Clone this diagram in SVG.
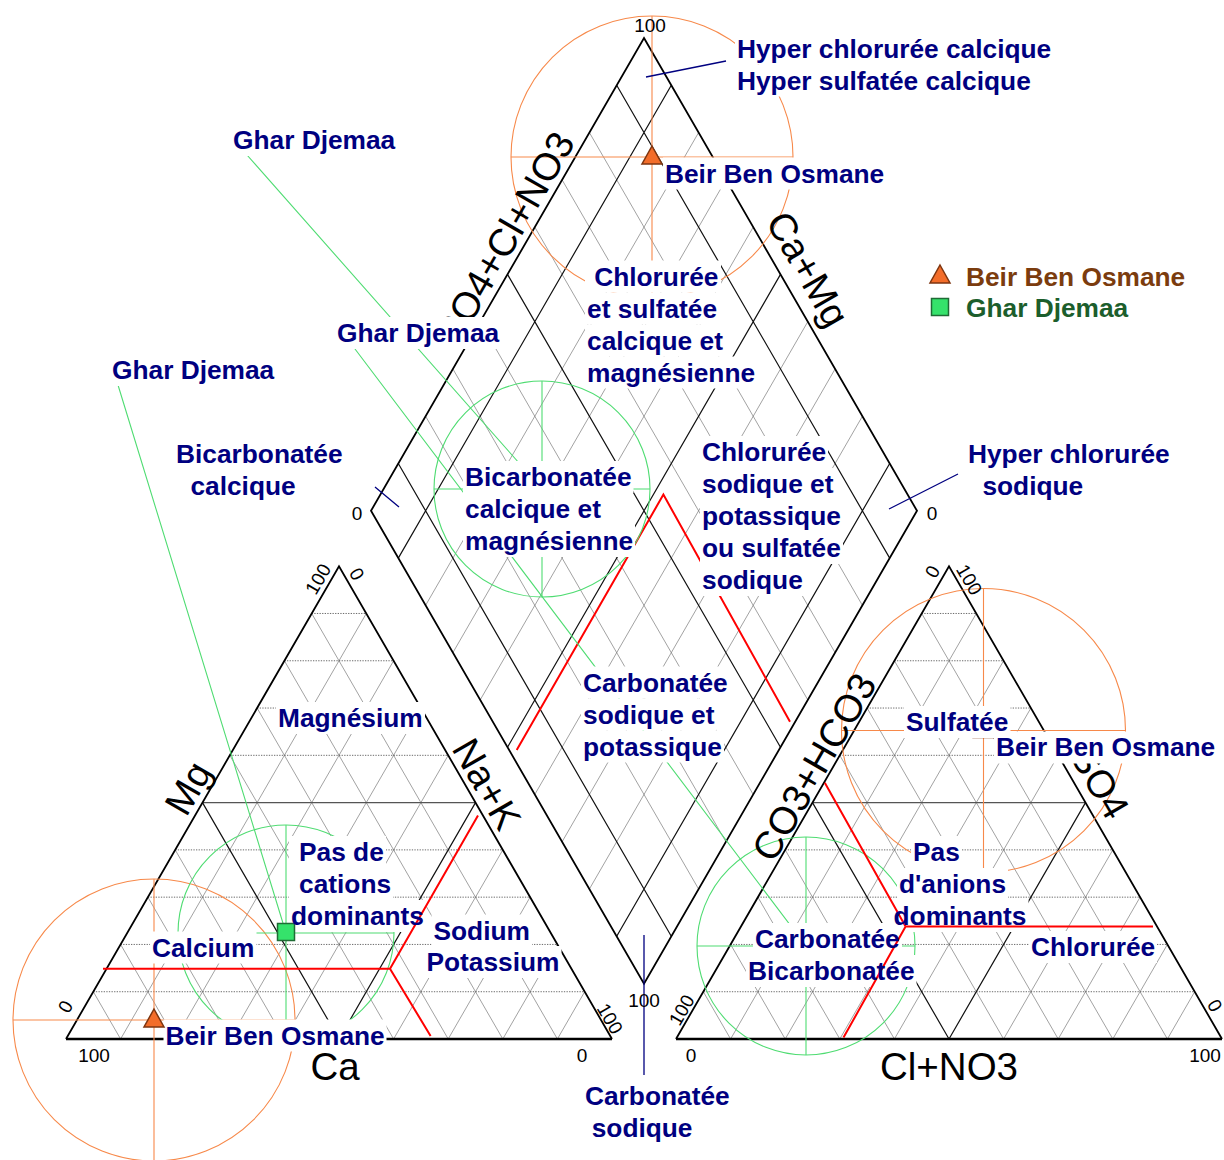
<svg xmlns="http://www.w3.org/2000/svg" xmlns:xlink="http://www.w3.org/1999/xlink" width="1224" height="1160" viewBox="0 0 1224 1160">
<style>
.g{stroke:#6f6f6f;stroke-width:0.65;fill:none}
.gd{stroke:#5a5a5a;stroke-width:0.9;stroke-dasharray:1.3 1.3;fill:none}
.k{stroke:#111;stroke-width:1.2;fill:none}
.kh{stroke:#555;stroke-width:1.2;fill:none}
.edge{stroke:#000;stroke-width:1.8;fill:none}
.base{stroke:#000;stroke-width:2.6;fill:none}
.red{stroke:#f00;stroke-width:2;fill:none}
.og{stroke:#f7894a;stroke-width:1.1;fill:none}
.gr{stroke:#4fdc72;stroke-width:1.1;fill:none}
.nv{stroke:#000080;stroke-width:1.3;fill:none}
.tri{fill:#f36d2a;stroke:#7d3510;stroke-width:1.5}
.sq{fill:#35e26b;stroke:#1f6b35;stroke-width:1.5}
.box{fill:#fff}
.lbl{font-family:"Liberation Sans",Arial,sans-serif;font-weight:bold;font-size:26.3px;fill:#000080}
.ax{font-family:"Liberation Sans",Arial,sans-serif;font-size:38.5px;fill:#000}
.tk{font-family:"Liberation Sans",Arial,sans-serif;font-size:19px;fill:#000}
</style>
<defs>
<g id="tgrid">
<path class="g" d="M120.6 1039L366.3 613.48M175.2 1039L393.6 660.76M229.8 1039L420.9 708.04M284.4 1039L448.2 755.32M393.6 1039L502.8 849.88M448.2 1039L530.1 897.16M502.8 1039L557.4 944.44M557.4 1039L584.7 991.72M120.6 1039L93.3 991.72M175.2 1039L120.6 944.44M229.8 1039L147.9 897.16M284.4 1039L175.2 849.88M393.6 1039L229.8 755.32M448.2 1039L257.1 708.04M502.8 1039L284.4 660.76M557.4 1039L311.7 613.48"/>
<path class="gd" d="M93.3 991.72H584.7M120.6 944.44H557.4M147.9 897.16H530.1M175.2 849.88H502.8M229.8 755.32H448.2M257.1 708.04H420.9M284.4 660.76H393.6M311.7 613.48H366.3"/>
<path class="kh" d="M202.5 802.6H475.5"/>
<path class="k" d="M339 1039L475.5 802.6M339 1039L202.5 802.6"/>
<path class="edge" d="M66 1039L339 566.2L612 1039"/>
<path class="base" d="M66 1039H612"/>
</g>
</defs>
<rect width="1224" height="1160" fill="#fff"/>

<g id="left-triangle">
<use xlink:href="#tgrid" href="#tgrid"/>
</g>
<g id="right-triangle">
<use xlink:href="#tgrid" href="#tgrid" transform="translate(610,0)"/>
</g>
<g id="diamond">
<path class="g" d="M425.6 605.36L698.6 132.56M452.9 652.64L725.9 179.84M480.2 699.92L753.2 227.12M534.8 794.48L807.8 321.68M562.1 841.76L835.1 368.96M589.4 889.04L862.4 416.24M425.6 416.24L698.6 889.04M452.9 368.96L725.9 841.76M480.2 321.68L753.2 794.48M534.8 227.12L807.8 699.92M562.1 179.84L835.1 652.64M589.4 132.56L862.4 605.36"/>
<path class="k" d="M398.3 558.08L671.3 85.28M507.5 747.2L780.5 274.4M616.7 936.32L889.7 463.52M398.3 463.52L671.3 936.32M507.5 274.4L780.5 747.2M616.7 85.28L889.7 558.08"/>
<path class="edge" d="M644 38L917 510.8L644 983.6L371 510.8Z"/>
</g>

<g id="connectors">
<path class="red" d="M516.7 750L663.4 494.6L790 721.7"/>
<path class="og" d="M511 157H793M652 16V298M13 1020H295M154 879V1161M841.5 730.5H1125.5M983.5 588.5V872.5"/>
<circle class="og" cx="652" cy="157" r="141"/>
<circle class="og" cx="154" cy="1020" r="141"/>
<circle class="og" cx="983.5" cy="730.5" r="142"/>
<path class="gr" d="M434 489H650M542 381V597M178 933H394M286 825V1041M697 946H915M806 837V1055"/>
<circle class="gr" cx="542" cy="489" r="108"/>
<circle class="gr" cx="286" cy="933" r="108"/>
<circle class="gr" cx="806" cy="946" r="109"/>
<path class="gr" d="M247 155L542 489M352 345L806 946M118 385L286 933"/>
<path class="nv" d="M726 61L646 77M375 487L399 507M958 474L889 509M644 935V1075"/>
</g>

<g id="hidden-points">
<rect class="sq" x="533.5" y="480.5" width="17" height="17"/>
<rect class="sq" x="797.5" y="937.5" width="17" height="17"/>
<path class="tri" d="M983.5 719.5L993.5 737.5L973.5 737.5Z"/>
</g>

<g id="axes">
<text class="ax" text-anchor="middle" dy="0.35em" transform="translate(188,788) rotate(-60)">Mg</text>
<text class="ax" text-anchor="middle" dy="0.35em" transform="translate(487,784) rotate(60)">Na+K</text>
<text class="ax" text-anchor="middle" x="335" y="1080">Ca</text>
<text class="ax" text-anchor="middle" dy="0.35em" transform="translate(814,767) rotate(-60)">CO3+HCO3</text>
<text class="ax" text-anchor="middle" dy="0.35em" transform="translate(1100,782) rotate(60)">SO4</text>
<text class="ax" text-anchor="middle" x="949" y="1080">Cl+NO3</text>
<text class="ax" text-anchor="middle" dy="0.35em" transform="translate(505,238) rotate(-60)">SO4+Cl+NO3</text>
<text class="ax" text-anchor="middle" dy="0.35em" transform="translate(808,269) rotate(60)">Ca+Mg</text>
</g>

<g id="ticks">
<text class="tk" text-anchor="middle" x="650" y="32">100</text>
<text class="tk" text-anchor="middle" x="357" y="520">0</text>
<text class="tk" text-anchor="middle" x="932" y="520">0</text>
<text class="tk" text-anchor="middle" x="644" y="1007">100</text>
<text class="tk" text-anchor="middle" x="94" y="1062">100</text>
<text class="tk" text-anchor="middle" x="582" y="1062">0</text>
<text class="tk" text-anchor="middle" x="691" y="1062">0</text>
<text class="tk" text-anchor="middle" x="1205" y="1062">100</text>
<text class="tk" text-anchor="middle" dy="0.35em" transform="translate(318,579) rotate(-60)">100</text>
<text class="tk" text-anchor="middle" dy="0.35em" transform="translate(357,574) rotate(60)">0</text>
<text class="tk" text-anchor="middle" dy="0.35em" transform="translate(65.5,1006.6) rotate(-60)">0</text>
<text class="tk" text-anchor="middle" dy="0.35em" transform="translate(610,1018.6) rotate(60)">100</text>
<text class="tk" text-anchor="middle" dy="0.35em" transform="translate(932.3,571.7) rotate(-60)">0</text>
<text class="tk" text-anchor="middle" dy="0.35em" transform="translate(969.3,579.6) rotate(60)">100</text>
<text class="tk" text-anchor="middle" dy="0.35em" transform="translate(681.6,1010) rotate(-60)">100</text>
<text class="tk" text-anchor="middle" dy="0.35em" transform="translate(1214.8,1005.6) rotate(60)">0</text>
</g>

<g id="label-boxes" class="box">
<rect x="735" y="32.5" width="318" height="32"/>
<rect x="735" y="64.5" width="298" height="32"/>
<rect x="231" y="124" width="166" height="32"/>
<rect x="663" y="157.5" width="223" height="32"/>
<rect x="585" y="260.5" width="136" height="32"/>
<rect x="585" y="292.5" width="134" height="32"/>
<rect x="585" y="324.5" width="140" height="32"/>
<rect x="585" y="356.5" width="172" height="32"/>
<rect x="335" y="317" width="166" height="32"/>
<rect x="110" y="354" width="166" height="32"/>
<rect x="174" y="438" width="170.5" height="32"/>
<rect x="174" y="470" width="124" height="32"/>
<rect x="463" y="461" width="170.5" height="32"/>
<rect x="463" y="493" width="140" height="32"/>
<rect x="463" y="525" width="172" height="32"/>
<rect x="700" y="436" width="128" height="32"/>
<rect x="700" y="468" width="135.5" height="32"/>
<rect x="700" y="500" width="143" height="32"/>
<rect x="700" y="532" width="143" height="32"/>
<rect x="700" y="564" width="105" height="32"/>
<rect x="966" y="438" width="206" height="32"/>
<rect x="966" y="470" width="119.5" height="32"/>
<rect x="276" y="702" width="149" height="32"/>
<rect x="581" y="666.5" width="149" height="32"/>
<rect x="581" y="698.5" width="135.5" height="32"/>
<rect x="581" y="730.5" width="143" height="32"/>
<rect x="904" y="706" width="106.5" height="32"/>
<rect x="994" y="731.5" width="223" height="32"/>
<rect x="289" y="836" width="97" height="32"/>
<rect x="289" y="868" width="104" height="32"/>
<rect x="291" y="900" width="135" height="32"/>
<rect x="431.5" y="914.5" width="100.5" height="32"/>
<rect x="424.5" y="946" width="137" height="32"/>
<rect x="150" y="931.5" width="106.5" height="32"/>
<rect x="163.5" y="1019.5" width="223" height="32"/>
<rect x="911" y="836" width="51" height="32"/>
<rect x="897" y="868" width="111" height="32"/>
<rect x="891.5" y="900" width="137" height="32"/>
<rect x="753" y="923" width="149" height="32"/>
<rect x="746" y="955" width="170.5" height="32"/>
<rect x="1029" y="931" width="128" height="32"/>
<rect x="583" y="1080" width="149" height="32"/>
<rect x="583" y="1112" width="110" height="32"/>
</g>

<g id="red-triangles">
<path class="red" d="M103 968.7H390M390 968.7L478 815.5M390 968.7L430.6 1036"/>
<path class="red" d="M905.6 926.4H1153M905.6 926.4L824.8 782.8M905.6 926.4L843.5 1037.6"/>
</g>

<g id="points">
<path class="tri" d="M652 146L662 164L642 164Z"/>
<path class="tri" d="M154 1009L164 1027L144 1027Z"/>
<rect class="sq" x="277.5" y="923.5" width="17" height="17"/>
</g>

<g id="labels" class="lbl">
<text x="737" y="57.5">Hyper chlorurée calcique</text>
<text x="737" y="89.5">Hyper sulfatée calcique</text>
<text x="233" y="149">Ghar Djemaa</text>
<text x="665" y="182.5">Beir Ben Osmane</text>
<text x="594.2" y="285.5">Chlorurée</text>
<text x="587" y="317.5">et sulfatée</text>
<text x="587" y="349.5">calcique et</text>
<text x="587" y="381.5">magnésienne</text>
<text x="337" y="342">Ghar Djemaa</text>
<text x="112" y="379">Ghar Djemaa</text>
<text x="176" y="463">Bicarbonatée</text>
<text x="190.4" y="495">calcique</text>
<text x="465" y="486">Bicarbonatée</text>
<text x="465" y="518">calcique et</text>
<text x="465" y="550">magnésienne</text>
<text x="702" y="461">Chlorurée</text>
<text x="702" y="493">sodique et</text>
<text x="702" y="525">potassique</text>
<text x="702" y="557">ou sulfatée</text>
<text x="702" y="589">sodique</text>
<text x="968" y="463">Hyper chlorurée</text>
<text x="982.4" y="495">sodique</text>
<text x="278" y="727">Magnésium</text>
<text x="583" y="691.5">Carbonatée</text>
<text x="583" y="723.5">sodique et</text>
<text x="583" y="755.5">potassique</text>
<text x="906" y="731">Sulfatée</text>
<text x="996" y="755.5">Beir Ben Osmane</text>
<text x="299" y="861">Pas de</text>
<text x="299" y="893">cations</text>
<text x="291" y="925">dominants</text>
<text x="433.5" y="939.5">Sodium</text>
<text x="426.5" y="971">Potassium</text>
<text x="152" y="956.5">Calcium</text>
<text x="165.5" y="1044.5">Beir Ben Osmane</text>
<text x="913" y="861">Pas</text>
<text x="899" y="893">d'anions</text>
<text x="893.5" y="925">dominants</text>
<text x="755" y="948">Carbonatée</text>
<text x="748" y="980">Bicarbonatée</text>
<text x="1031" y="956">Chlorurée</text>
<text x="585" y="1105">Carbonatée</text>
<text x="591.7" y="1137">sodique</text>
</g>

<g id="legend">
<path class="tri" d="M940 265L950 283L930 283Z"/>
<rect class="sq" x="931.5" y="298.5" width="17" height="17"/>
<text class="lbl" x="966" y="286" style="fill:#7b3c0e">Beir Ben Osmane</text>
<text class="lbl" x="966" y="317" style="fill:#1c5e2c">Ghar Djemaa</text>
</g>
</svg>
